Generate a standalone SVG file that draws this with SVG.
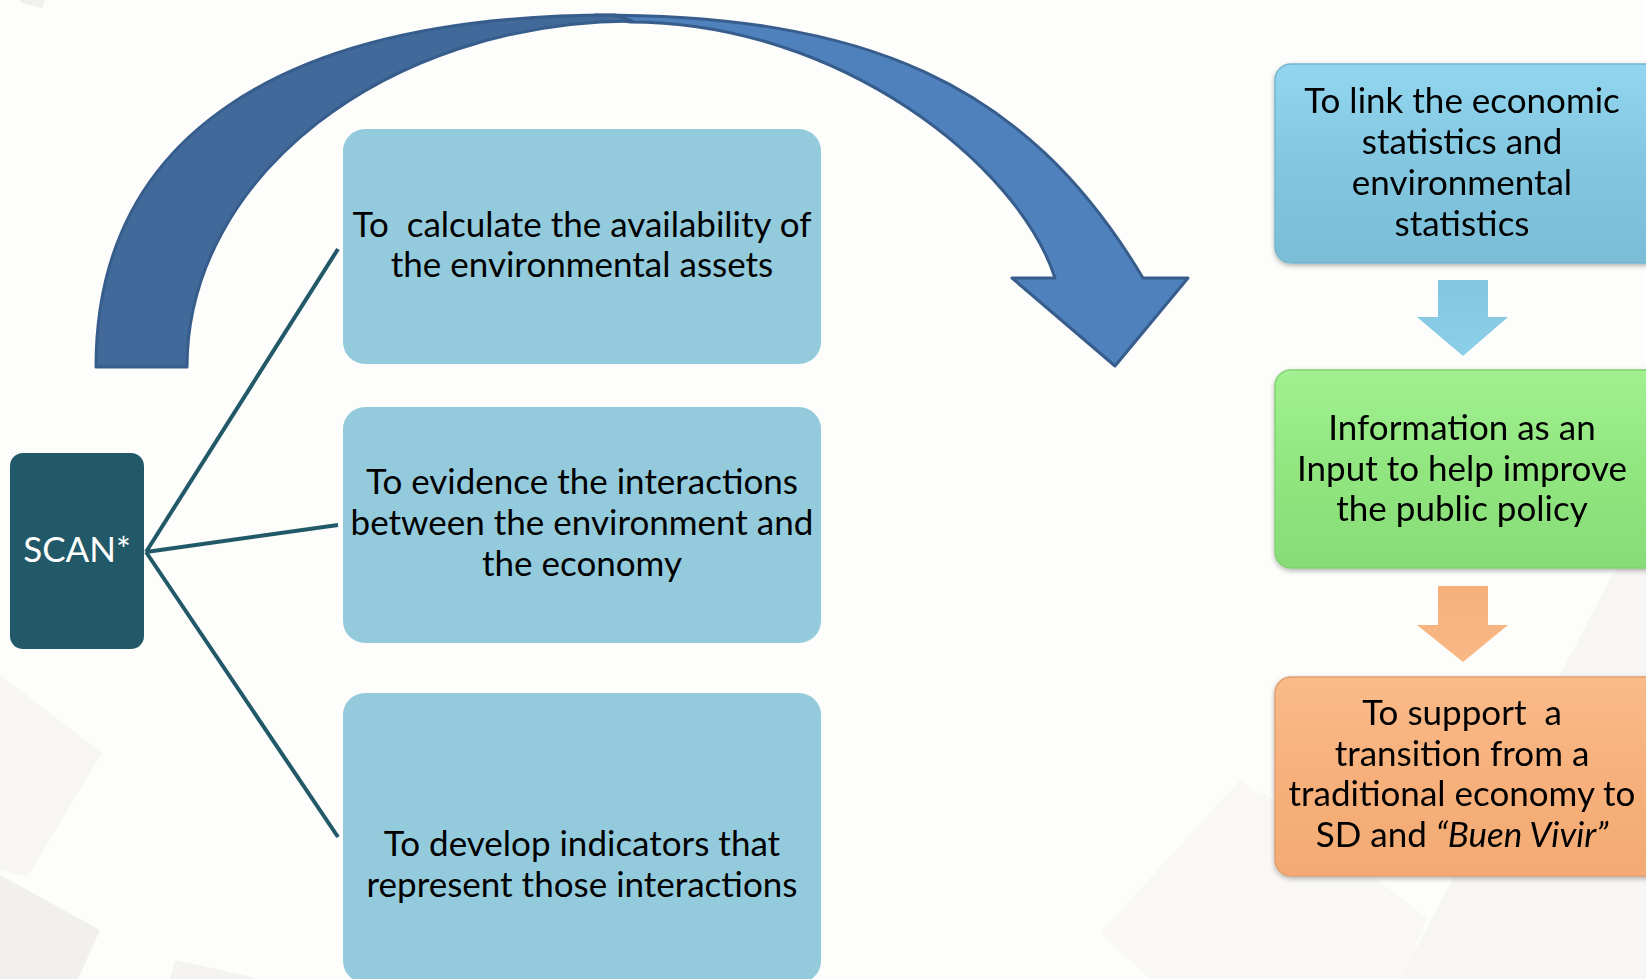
<svg xmlns="http://www.w3.org/2000/svg" width="1646" height="979" viewBox="0 0 1646 979">
<style>
.t{font-family:Lato,"Open Sans","Liberation Sans",sans-serif;font-size:35px;fill:#000;text-anchor:middle;white-space:pre}
.tw{fill:#fff}
.lbox{fill:#94cbdc}
.conn{stroke:#225968;stroke-width:4;fill:none}
.arc{stroke:#375d8c;stroke-width:3;stroke-linejoin:round}
</style>
<defs>
<linearGradient id="gBlue" x1="0" y1="0" x2="0" y2="1">
<stop offset="0" stop-color="#93d6f0"/><stop offset="0.5" stop-color="#82c6e0"/><stop offset="1" stop-color="#7bbdd6"/>
</linearGradient>
<linearGradient id="gGreen" x1="0" y1="0" x2="0" y2="1">
<stop offset="0" stop-color="#a2f091"/><stop offset="0.5" stop-color="#91e680"/><stop offset="1" stop-color="#88dc77"/>
</linearGradient>
<linearGradient id="gOrange" x1="0" y1="0" x2="0" y2="1">
<stop offset="0" stop-color="#f9bb8a"/><stop offset="0.5" stop-color="#f7b07b"/><stop offset="1" stop-color="#f3aa73"/>
</linearGradient>
<linearGradient id="gBlueA" x1="0" y1="0" x2="0" y2="1">
<stop offset="0" stop-color="#84c5df"/><stop offset="1" stop-color="#8ccfe8"/>
</linearGradient>
<linearGradient id="gOrangeA" x1="0" y1="0" x2="0" y2="1">
<stop offset="0" stop-color="#f5b07a"/><stop offset="1" stop-color="#f8b885"/>
</linearGradient>
<filter id="soft" x="-5%" y="-5%" width="110%" height="110%">
<feGaussianBlur in="SourceAlpha" stdDeviation="2.5"/>
<feOffset dy="1.5"/>
<feComponentTransfer><feFuncA type="linear" slope="0.3"/></feComponentTransfer>
<feMerge><feMergeNode/><feMergeNode in="SourceGraphic"/></feMerge>
</filter>
</defs>

<rect width="1646" height="979" fill="#fdfdfb"/>
<g id="background" fill="#f7f6f4">
<polygon points="0,675 102,753 27,877 0,870"/>
<polygon points="0,875 100,930 78,979 0,979" fill="#f2f0ee"/>
<polygon points="175,960 260,979 170,979" fill="#f4f3f1"/>
<polygon points="1100,933 1240,780 1330,850 1330,979 1150,979" fill="#f9f8f6"/>
<polygon points="1613,574 1646,540 1646,979 1400,979"/>
<polygon points="1260,790 1427,918 1403,979 1260,979" fill="#f9f8f6"/>
<polygon points="20,0 45,0 42,8 22,3" fill="#f2f0ee"/>
</g>

<g id="curved-arrow">
<path class="arc" fill="#4f81bd" d="M595,15 C862,15 1024,79 1143,278 L1188,278 L1115,366 L1012,278 L1055,278 C1019,166 841,22 630,22 Z"/>
<path class="arc" fill="#41699a" d="M96,367 C96,138 278,15 615,15 L632,21 C386,22 187,177 187,367 Z"/>
</g>

<g id="connectors">
<line class="conn" x1="146" y1="552" x2="338" y2="249"/>
<line class="conn" x1="146" y1="552" x2="338" y2="525"/>
<line class="conn" x1="146" y1="552" x2="338" y2="837"/>
<polygon fill="url(#gBlueA)" points="1438,280 1488,280 1488,317 1508,317 1463,356 1417,317 1438,317"/>
<polygon fill="url(#gOrangeA)" points="1438,586 1488,586 1488,625 1508,625 1463,662 1417,625 1438,625"/>
</g>

<g id="scan">
<rect x="10" y="453" width="134" height="196" rx="13" fill="#225968"/>
<text class="t tw" x="77" y="562">SCAN*</text>
</g>

<g id="box-calculate">
<rect class="lbox" x="343" y="129" width="478" height="235" rx="22"/>
<text class="t" x="582" y="237">To  calculate the availability of</text>
<text class="t" x="582" y="277">the environmental assets</text>
</g>

<g id="box-evidence">
<rect class="lbox" x="343" y="407" width="478" height="236" rx="22"/>
<text class="t" x="582" y="494">To evidence the interactions</text>
<text class="t" x="582" y="535">between the environment and</text>
<text class="t" x="582" y="576">the economy</text>
</g>

<g id="box-indicators">
<rect class="lbox" x="343" y="693" width="478" height="290" rx="22"/>
<text class="t" x="582" y="856">To develop indicators that</text>
<text class="t" x="582" y="897">represent those interactions</text>
</g>

<g id="box-link" filter="url(#soft)">
<rect x="1275" y="64" width="390" height="199" rx="16" fill="url(#gBlue)" stroke="#76b6cf" stroke-width="1.5"/>
<text class="t" x="1462" y="113">To link the economic</text>
<text class="t" x="1462" y="154">statistics and</text>
<text class="t" x="1462" y="195">environmental</text>
<text class="t" x="1462" y="236">statistics</text>
</g>

<g id="box-information" filter="url(#soft)">
<rect x="1275" y="370" width="390" height="198" rx="16" fill="url(#gGreen)" stroke="#82d271" stroke-width="1.5"/>
<text class="t" x="1462" y="440">Information as an</text>
<text class="t" x="1462" y="481">Input to help improve</text>
<text class="t" x="1462" y="521">the public policy</text>
</g>

<g id="box-support" filter="url(#soft)">
<rect x="1275" y="677" width="390" height="199" rx="16" fill="url(#gOrange)" stroke="#dfa072" stroke-width="1.5"/>
<text class="t" x="1462" y="725">To support  a</text>
<text class="t" x="1462" y="766">transition from a</text>
<text class="t" x="1462" y="806">traditional economy to</text>
<text class="t" x="1462" y="847">SD and <tspan font-style="italic">“Buen Vivir”</tspan></text>
</g>
</svg>
